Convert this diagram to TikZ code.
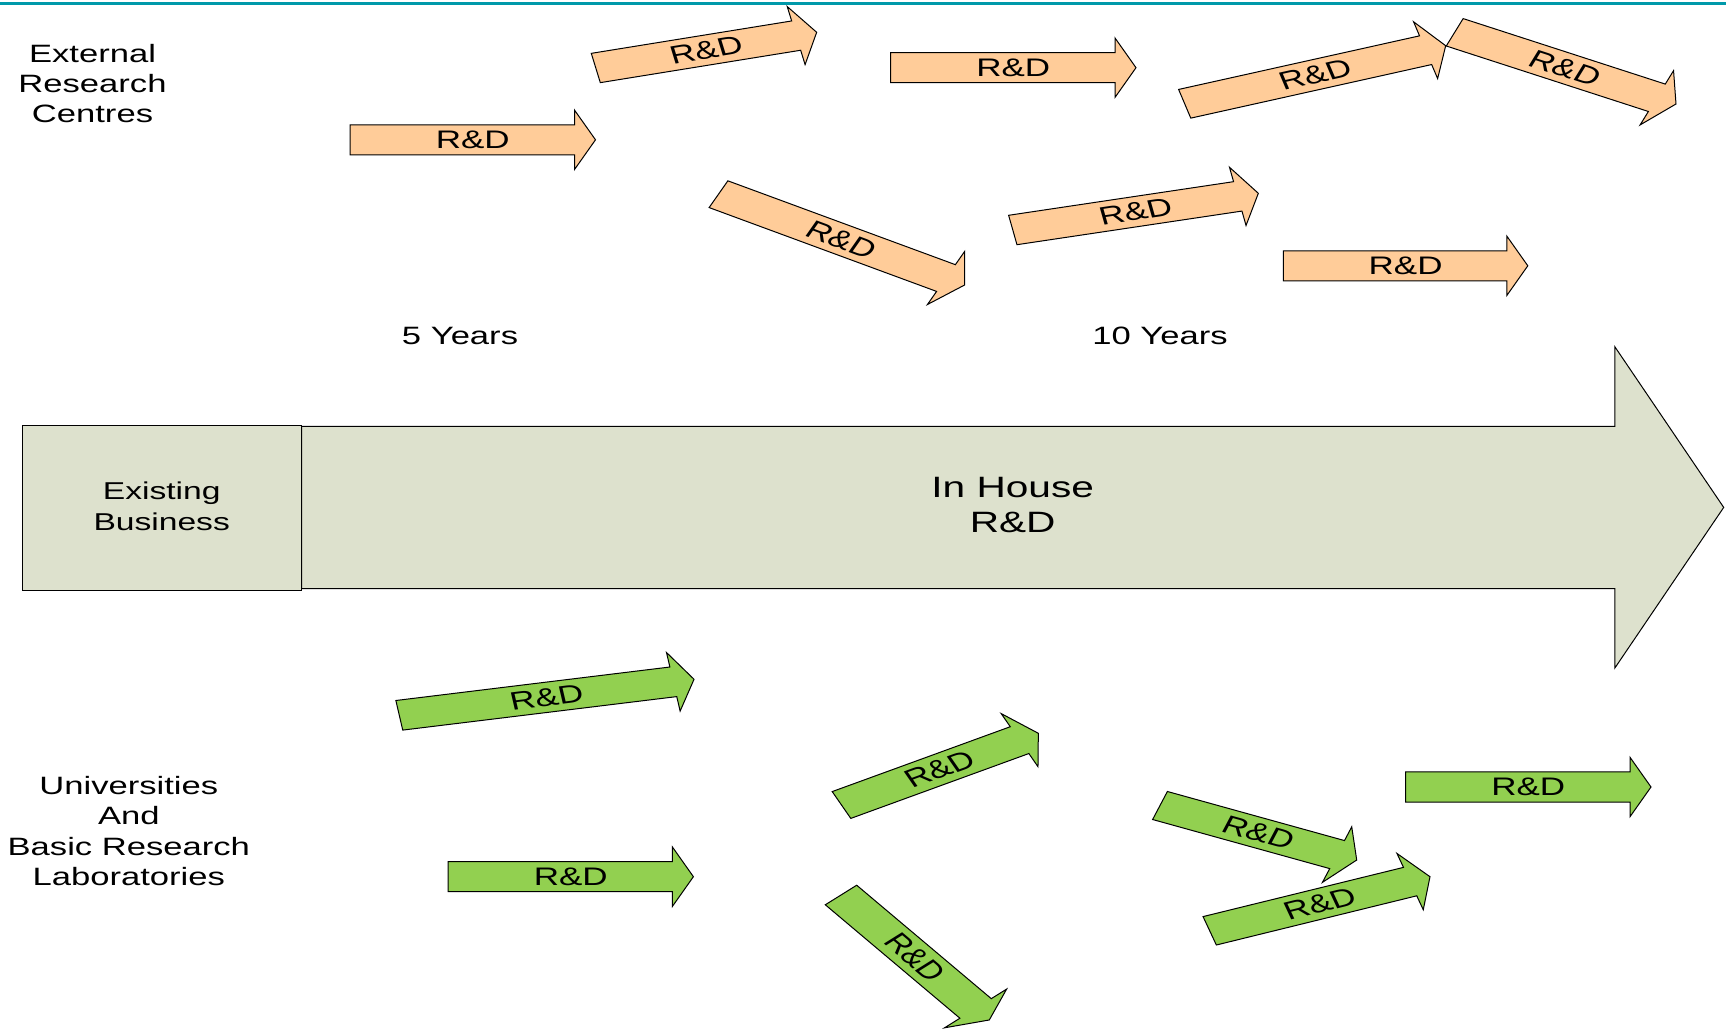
\documentclass[tikz,border=0pt]{standalone}
\usepackage{fontspec}
\setmainfont{Liberation Sans}
\definecolor{toprule}{RGB}{0,153,170}
\definecolor{extfill}{RGB}{255,204,153}
\definecolor{unifill}{RGB}{146,208,80}
\definecolor{bizfill}{RGB}{221,225,205}
\pgfkeys{tikz/rdbody/.style={draw=black, line width=0.5pt, line join=miter}}
\pgfkeys{tikz/rdtext/.style={font=\fontsize{17.5}{20}\selectfont, inner sep=0pt}}
\pgfkeys{tikz/sidelabel/.style={font=\fontsize{17.3}{20.9}\selectfont, align=center, inner sep=0pt, yscale=0.725}}
\pgfkeys{tikz/bizlabel/.style={font=\fontsize{16.8}{21.2}\selectfont, align=center, inner sep=0pt, yscale=0.725}}
\pgfkeys{tikz/houselabel/.style={font=\fontsize{20.3}{24.3}\selectfont, align=center, inner sep=0pt, yscale=0.725}}
% #1 name, #2 tail, #3 angle, #4 length, #5 fill
\newcommand{\rdarrow}[5]{%
  \begin{scope}[shift={#2}, yscale=0.725, rotate=#3]
    \draw[rdbody, fill=#5] (0,-20.7) -- ({#4-21},-20.7) -- ({#4-21},-41) -- (#4,0)
      -- ({#4-21},41) -- ({#4-21},20.7) -- (0,20.7) -- cycle;
    \node[rdtext, transform shape] (#1) at ({#4/2},0) {R\&D};
  \end{scope}}

\begin{document}
\begin{tikzpicture}[x=0.5pt, y=-0.5pt]
  \useasboundingbox (0,0) rectangle (1726,1032);
  \draw[toprule, line width=1.1pt] (0,3.5) -- (1726,3.5);

  % side labels
  \node[sidelabel] (ext) at (92.5,83.7) {External\\Research\\Centres};
  \node[sidelabel] (uni) at (128.8,831) {Universities\\And\\Basic Research\\Laboratories};
  \node[sidelabel] (five) at (460,335.7) {5 Years};
  \node[sidelabel] (ten) at (1160,335.7) {10 Years};

  % in house arrow and existing business
  \draw[rdbody, fill=bizfill] (301.6,426.5) -- (1614.8,426.5) -- (1614.8,346.7) -- (1723.7,507.4)
    -- (1614.8,668.1) -- (1614.8,588.5) -- (301.6,588.5) -- cycle;
  \draw[rdbody, fill=bizfill] (22.3,425.7) rectangle (301.7,590);
  \node[bizlabel] (exist) at (161.7,506.5) {Existing\\Business};
  \node[houselabel] (inhouse) at (1012.7,505) {In House\\R\&D};

  % external research centres
  \rdarrow{ext1}{(350,139.8)}{0}{245.5}{extfill}
  \rdarrow{ext2}{(595.8,68)}{12.57}{226.3}{extfill}
  \rdarrow{ext3}{(890.5,67.7)}{0}{245.5}{extfill}
  \rdarrow{ext4}{(718.5,194.2)}{-26.95}{276.2}{extfill}
  \rdarrow{ext5}{(1012.8,230)}{11.65}{250.7}{extfill}
  \rdarrow{ext6}{(1184.7,103.8)}{17.06}{273.0}{extfill}
  \rdarrow{ext7}{(1454.7,32.3)}{-24.08}{242.4}{extfill}
  \rdarrow{ext8}{(1283.4,265.8)}{0}{244.4}{extfill}

  % universities
  \rdarrow{uni1}{(399.3,715.3)}{9.57}{298.9}{unifill}
  \rdarrow{uni2}{(448,876.7)}{0}{245.4}{unifill}
  \rdarrow{uni3}{(841.5,805)}{26.68}{220.3}{unifill}
  \rdarrow{uni4}{(841,895)}{-49.3}{227.4}{unifill}
  \rdarrow{uni5}{(1160,805.5)}{-20.92}{210.6}{unifill}
  \rdarrow{uni6}{(1209.7,930.8)}{18.71}{232.6}{unifill}
  \rdarrow{uni7}{(1405.6,787)}{0}{245.4}{unifill}
\end{tikzpicture}
\end{document}
